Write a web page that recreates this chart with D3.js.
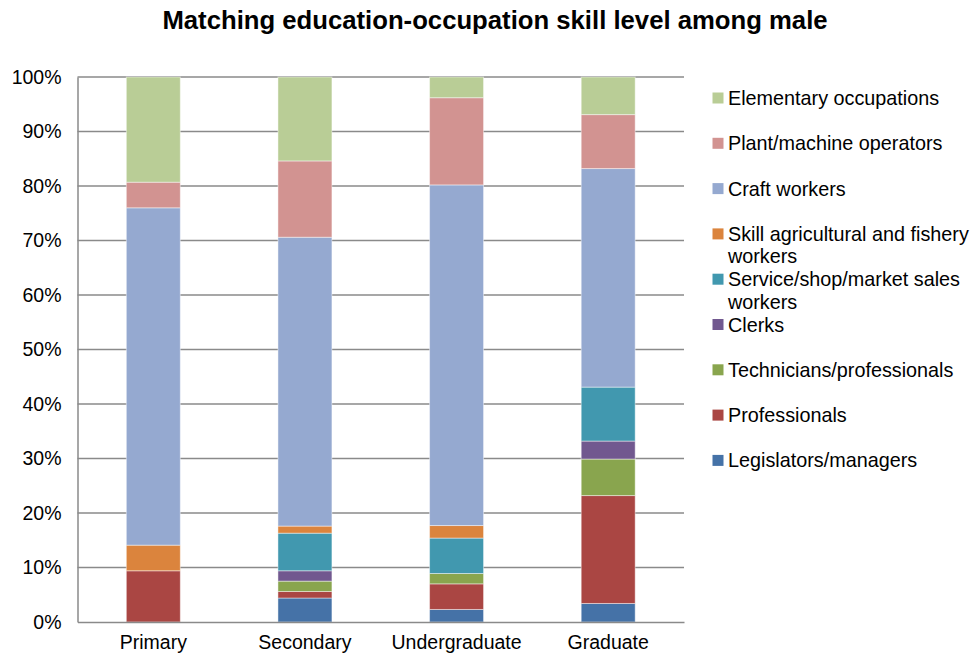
<!DOCTYPE html>
<html>
<head>
<meta charset="utf-8">
<script src="https://cdn.jsdelivr.net/npm/d3@7"></script>
<style>
  html, body { margin: 0; padding: 0; background: #ffffff; }
  svg { display: block; font-family: "Liberation Sans", Arial, sans-serif; }
</style>
</head>
<body>
<svg id="chart" width="973" height="659"></svg>
<script>
const title = "Matching education-occupation skill level among male";
const categories = ["Primary", "Secondary", "Undergraduate", "Graduate"];
// series listed bottom to top of the stack
const seriesNames = [
  "Legislators/managers",
  "Professionals",
  "Technicians/professionals",
  "Clerks",
  "Service/shop/market sales workers",
  "Skill agricultural and fishery workers",
  "Craft workers",
  "Plant/machine operators",
  "Elementary occupations"
];
const seriesColors = [
  "#4572A7", "#AA4643", "#89A54E", "#71588F", "#4198AF",
  "#DB843D", "#95A9D0", "#D29391", "#B9CD96"
];
// values in percent, one per category (Primary, Secondary, Undergraduate, Graduate)
const legislators   = [0.0, 4.4, 2.3, 3.4];
const professionals = [9.4, 1.2, 4.7, 19.8];
const technicians   = [0.0, 1.9, 1.9, 6.7];
const clerks        = [0.0, 1.9, 0.0, 3.3];
const service       = [0.0, 6.9, 6.5, 9.9];
const agricultural  = [4.7, 1.3, 2.3, 0.0];
const craft         = [61.9, 53.0, 62.5, 40.1];
const plant         = [4.7, 14.0, 16.0, 9.9];
const elementary    = [19.3, 15.4, 3.8, 6.9];
const yTicks = [0, 10, 20, 30, 40, 50, 60, 70, 80, 90, 100];
// legend label lines (wrapped as in the reference), in display order top to bottom
const legendLines = [
  ["Elementary occupations"],
  ["Plant/machine operators"],
  ["Craft workers"],
  ["Skill agricultural and fishery", "workers"],
  ["Service/shop/market sales", "workers"],
  ["Clerks"],
  ["Technicians/professionals"],
  ["Professionals"],
  ["Legislators/managers"]
];

const seriesValues = [legislators, professionals, technicians, clerks, service,
                      agricultural, craft, plant, elementary];

const rows = categories.map((c, i) => {
  const r = { category: c };
  seriesNames.forEach((s, k) => { r[s] = seriesValues[k][i]; });
  return r;
});

const stacked = d3.stack().keys(seriesNames)(rows);

const svg = d3.select("#chart");
const plotLeft = 77.5, plotRight = 684, plotTop = 77, plotBottom = 622;

const x = d3.scaleBand().domain(categories).range([plotLeft, plotRight]).padding(0);
const y = d3.scaleLinear().domain([0, 100]).range([plotBottom, plotTop]);
const barW = x.bandwidth() * 0.356;

// title
svg.append("text")
  .attr("x", 495).attr("y", 29)
  .attr("text-anchor", "middle")
  .attr("font-weight", "bold")
  .attr("font-size", 25.7)
  .attr("fill", "#000")
  .text(title);

// gridlines
svg.append("g")
  .selectAll("line")
  .data(yTicks.filter(t => t > 0))
  .join("line")
  .attr("x1", plotLeft).attr("x2", plotRight)
  .attr("y1", d => y(d)).attr("y2", d => y(d))
  .attr("stroke", "#8a8a8a")
  .attr("stroke-width", 1.5);

// bars
const layers = svg.append("g")
  .selectAll("g")
  .data(stacked)
  .join("g")
  .attr("fill", (d, i) => seriesColors[i]);

layers.selectAll("rect")
  .data(d => d.filter(p => p[1] - p[0] > 0))
  .join("rect")
  .attr("x", d => x(d.data.category) + (x.bandwidth() - barW) / 2)
  .attr("width", barW)
  .attr("y", d => y(d[1]))
  .attr("height", d => y(d[0]) - y(d[1]))
  .attr("stroke", "rgba(255,255,255,0.45)")
  .attr("stroke-width", 1);

// y axis
const yAxis = svg.append("g")
  .attr("transform", `translate(${plotLeft},0)`)
  .call(d3.axisLeft(y).tickValues(yTicks).tickFormat(d => d + "%").tickSize(0).tickPadding(16));
yAxis.select(".domain").attr("stroke", "#8a8a8a").attr("stroke-width", 1.5);
yAxis.selectAll("text")
  .attr("font-size", 19.5)
  .attr("font-family", "Liberation Sans, Arial, sans-serif")
  .attr("fill", "#000");

// x axis
const xAxis = svg.append("g")
  .attr("transform", `translate(0,${plotBottom})`)
  .call(d3.axisBottom(x).tickSize(0).tickPadding(13));
xAxis.select(".domain").attr("stroke", "#8a8a8a").attr("stroke-width", 1.5);
xAxis.selectAll("text")
  .attr("font-size", 19.5)
  .attr("font-family", "Liberation Sans, Arial, sans-serif")
  .attr("fill", "#000");

// legend
const legendColors = seriesColors.slice().reverse();
const lg = svg.append("g");
legendLines.forEach((lines, i) => {
  const cy = 98 + i * 45.3;
  lg.append("rect")
    .attr("x", 712.5).attr("y", cy - 5.5)
    .attr("width", 11).attr("height", 11)
    .attr("fill", legendColors[i]);
  const t = lg.append("text")
    .attr("x", 728).attr("y", cy + 7)
    .attr("font-size", 19.8)
    .attr("fill", "#000");
  lines.forEach((ln, j) => {
    t.append("tspan").attr("x", 728).attr("dy", j === 0 ? 0 : 22.5).text(ln);
  });
});
</script>
</body>
</html>
